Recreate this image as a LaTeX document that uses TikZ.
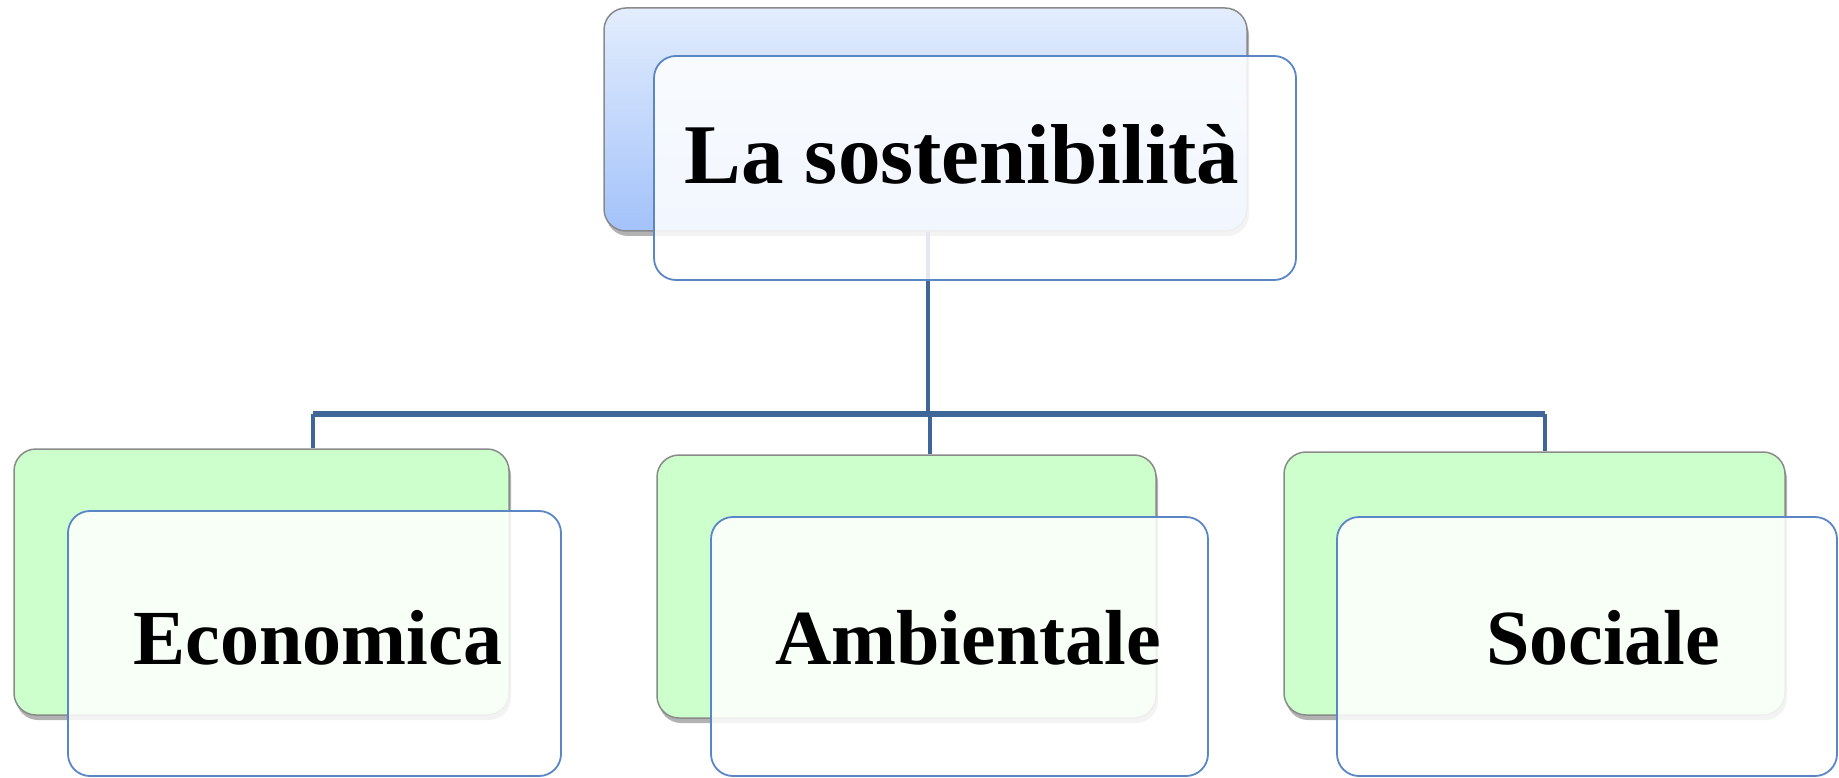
\documentclass[tikz,border=0pt]{standalone}
\usepackage{fontspec}
\setmainfont{Liberation Serif}
\usetikzlibrary{shadows}
\definecolor{greenfill}{HTML}{CCFFCC}
\definecolor{backborder}{HTML}{8A8A8A}
\definecolor{bluetop}{HTML}{E3EDFD}
\definecolor{bluebot}{HTML}{A3C2FA}
\definecolor{frontborder}{HTML}{5A86C6}
\definecolor{connector}{HTML}{3E6699}
\tikzset{
  backbox/.style={draw=backborder, line width=1.5pt, rounded corners=22pt, inner sep=0pt,
    drop shadow={shadow xshift=2pt, shadow yshift=-5pt, fill=black, opacity=0.3}},
  greenbox/.style={backbox, fill=greenfill},
  bluebox/.style={backbox, top color=bluetop, bottom color=bluebot},
  frontbox/.style={draw=frontborder, line width=1.8pt, fill=white, fill opacity=0.86,
    rounded corners=22pt, inner sep=0pt},
  toptext/.style={font=\bfseries\fontsize{85}{85}\selectfont, inner sep=0pt, anchor=base},
  boxtext/.style={font=\bfseries\fontsize{78}{78}\selectfont, inner sep=0pt, anchor=base},
  link/.style={draw=connector, line width=4pt},
  barline/.style={draw=connector, line width=6pt}
}
\begin{document}
\begin{tikzpicture}[x=1pt,y=-1pt]
\useasboundingbox (0,0) rectangle (1839,778);
% back boxes
\node[bluebox, minimum width=643pt, minimum height=223pt] (tb) at (925.5,119.5) {};
\node[greenbox, minimum width=495pt, minimum height=266pt] (eb) at (261.5,582) {};
\node[greenbox, minimum width=499pt, minimum height=263pt] (ab) at (906.5,586.5) {};
\node[greenbox, minimum width=501pt, minimum height=263pt] (sb) at (1534.5,583.5) {};
% connectors
\coordinate (barL) at (313,414);
\coordinate (barM) at (930,414);
\coordinate (barR) at (1545,414);
\draw[link] (tb.south -| 928,0) -- (928,414);
\draw[barline] (barL) -- (barR);
\draw[link] (barL) -- (barL |- eb.north);
\draw[link] (barM) -- (barM |- ab.north);
\draw[link] (barR) -- (barR |- sb.north);
% front boxes
\node[frontbox, minimum width=642pt, minimum height=224pt] (tf) at (975,168) {};
\node[frontbox, minimum width=493pt, minimum height=265pt] (ef) at (314.5,643.5) {};
\node[frontbox, minimum width=497pt, minimum height=259pt] (af) at (959.5,646.5) {};
\node[frontbox, minimum width=500pt, minimum height=259pt] (sf) at (1587,646.5) {};
% texts
\node[toptext] (tt) at (962,184) {La sostenibilità};
\node[boxtext] (et) at (318,664) {Economica};
\node[boxtext] (at) at (968,664) {Ambientale};
\node[boxtext] (st) at (1603,664) {Sociale};
\end{tikzpicture}
\end{document}
